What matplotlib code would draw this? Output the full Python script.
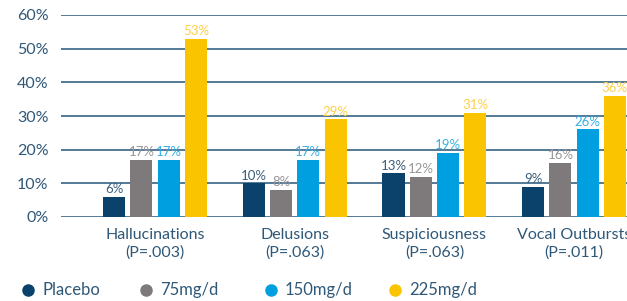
import matplotlib.pyplot as plt
import numpy as np
from matplotlib.lines import Line2D

plt.rcParams['font.family'] = ['Lato', 'DejaVu Sans']

# data
categories = ['Hallucinations\n(P=.003)', 'Delusions\n(P=.063)',
              'Suspiciousness\n(P=.063)', 'Vocal Outbursts\n(P=.011)']
series = ['Placebo', '75mg/d', '150mg/d', '225mg/d']
placebo = [6, 10, 13, 9]
mg75 = [17, 8, 12, 16]
mg150 = [17, 17, 19, 26]
mg225 = [53, 29, 31, 36]
values = [placebo, mg75, mg150, mg225]

colors = ['#0b426b', '#7e7a7b', '#009fe0', '#fbc400']
label_colors = ['#3d5f7c', '#9a9697', '#3aafe3', '#fcd04a']
text_col = '#2f5878'
grid_col = '#46708f'

fig = plt.figure(figsize=(6.27, 3.01), dpi=100)
ax = fig.add_axes([61 / 627, (301 - 217) / 301, 1 - 61 / 627, (217 - 15) / 301])

x = np.arange(len(categories))
width = 0.158
step = 0.195
for i, (name, vals) in enumerate(zip(series, values)):
    pos = x + (i - 1.5) * step
    ax.bar(pos, vals, width, color=colors[i], zorder=3, label=name)
    for p, v in zip(pos, vals):
        ax.text(p, v + 0.5, f'{v}%', ha='center', va='bottom', fontsize=9.5,
                color=label_colors[i], zorder=4)

ax.set_ylim(0, 60)
ax.set_xlim(-0.673, 3.379)
ax.set_yticks(range(0, 61, 10))
ax.set_yticklabels([f'{t}%' for t in range(0, 61, 10)])
ax.yaxis.grid(True, color=grid_col, linewidth=1.3, zorder=0)
ax.set_axisbelow(True)
for s in ax.spines.values():
    s.set_visible(False)
ax.tick_params(axis='y', length=0, pad=9, labelsize=11.5, labelcolor=text_col)
ax.set_xticks(x)
ax.set_xticklabels(categories, fontsize=11.5, color=text_col, linespacing=1.25)
ax.tick_params(axis='x', length=0, pad=8)

# legend, placed by hand
leg_x = [28, 146, 271, 395]
for i, name in enumerate(series):
    fig.add_artist(Line2D([leg_x[i] / 627], [1 - 290 / 301], marker='o',
                          markersize=8, color=colors[i], linestyle='none',
                          transform=fig.transFigure))
    fig.text((leg_x[i] + 14) / 627, 1 - 290 / 301, name, fontsize=12,
             color=text_col, va='center', ha='left')

fig.savefig('out.png', dpi=100)
